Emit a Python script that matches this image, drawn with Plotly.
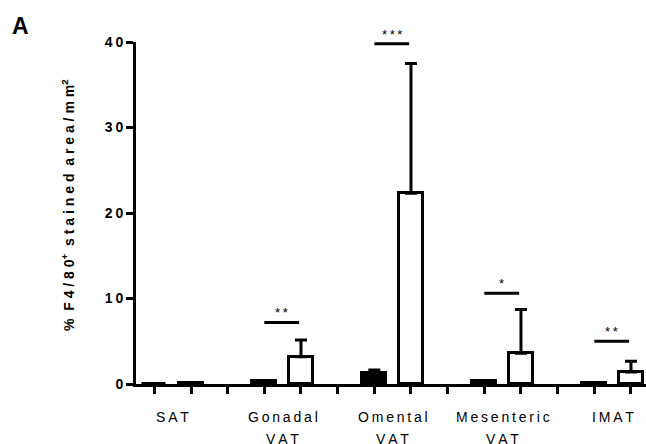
import plotly.graph_objects as go

categories = ["SAT", "Gonadal VAT", "Omental VAT", "Mesenteric VAT", "IMAT"]
group1_mean = [0.0, 0.3, 1.25, 0.32, 0.12]
group1_err = [0.0, 0.05, 0.4, 0.1, 0.03]
group2_mean = [0.08, 3.2, 22.3, 3.6, 1.4]
group2_err = [0.05, 1.95, 15.2, 5.1, 1.25]
sig_labels = ["", "**", "***", "*", "**"]
sig_heights = [None, 7.2, 39.8, 10.6, 5.0]
y_ticks = [0, 10, 20, 30, 40]

TS = "\u2009"
NB = "\u00a0"

def spaced(s, sep=TS):
    return sep.join(list(s))

FONT = "Liberation Sans, Arial, sans-serif"

x1 = [3 * i for i in range(len(categories))]
x2 = [3 * i + 1 for i in range(len(categories))]

fig = go.Figure()
fig.add_trace(go.Bar(
    x=x1, y=group1_mean, width=0.66,
    marker=dict(color="black", line=dict(color="black", width=3)),
    error_y=dict(type="data", symmetric=False, array=group1_err,
                 arrayminus=[0] * len(group1_err), thickness=3, width=6, color="black"),
    showlegend=False,
))
fig.add_trace(go.Bar(
    x=x2, y=group2_mean, width=0.66,
    marker=dict(color="white", line=dict(color="black", width=3)),
    error_y=dict(type="data", symmetric=False, array=group2_err,
                 arrayminus=[0] * len(group2_err), thickness=3, width=6, color="black"),
    showlegend=False,
))

shapes = []
annotations = []
for i, (lab, h) in enumerate(zip(sig_labels, sig_heights)):
    if h is None:
        continue
    shapes.append(dict(type="line", xref="x", yref="y", x0=x1[i], x1=x2[i] - 0.05,
                       y0=h, y1=h, line=dict(color="black", width=3)))
    annotations.append(dict(x=(x1[i] + x2[i]) / 2 - 0.03, y=h, xref="x", yref="y",
                            text=spaced(lab), showarrow=False, yanchor="bottom",
                            yshift=0, font=dict(family=FONT, size=13, color="black")))

for i, cat in enumerate(categories):
    lines = cat.split(" ")
    for j, ln in enumerate(lines):
        annotations.append(dict(x=(x1[i] + x2[i]) / 2, y=0, xref="x", yref="paper",
                                text=spaced(ln), showarrow=False, yanchor="middle",
                                yshift=-33 - 22 * j,
                                font=dict(family=FONT, size=14, color="black")))

title_txt = (spaced("%", NB) + NB + NB + spaced("F4/80", NB) + "<sup>+</sup>" + NB + NB
             + spaced("stained", NB) + NB + NB + spaced("area/mm", NB) + "<sup>2</sup>")
annotations.append(dict(x=0, y=0.5, xref="paper", yref="paper", xshift=-68, yshift=8,
                        text=title_txt,
                        textangle=-90, showarrow=False, xanchor="center", yanchor="middle",
                        font=dict(family=FONT, size=14, color="black", weight="bold")))
annotations.append(dict(x=0, y=1, xref="paper", yref="paper", xshift=-116, yshift=16,
                        text="<b>A</b>", showarrow=False, xanchor="center", yanchor="middle",
                        font=dict(family=FONT, size=23, color="black")))

fig.update_layout(
    width=646, height=444,
    margin=dict(l=136, r=0, t=42, b=60),
    paper_bgcolor="white", plot_bgcolor="white",
    bargap=0,
    shapes=shapes, annotations=annotations,
    xaxis=dict(range=[-0.5, 13.41], tickvals=list(range(14)), ticktext=[""] * 14,
               ticks="outside", ticklen=7, tickwidth=3, tickcolor="black",
               showline=True, linecolor="black", linewidth=3, showgrid=False, zeroline=False),
    yaxis=dict(range=[0, 40], tickvals=y_ticks, ticktext=[spaced(str(v)) for v in y_ticks],
               ticks="outside", ticklen=7, tickwidth=3, tickcolor="black",
               tickfont=dict(family=FONT, size=14, color="black", weight="bold"),
               showline=True, linecolor="black", linewidth=3, showgrid=False, zeroline=False),
)

fig.write_html("out.html", config={"displayModeBar": False},
               post_script="document.body.style.margin='0';document.body.style.overflow='hidden';")
